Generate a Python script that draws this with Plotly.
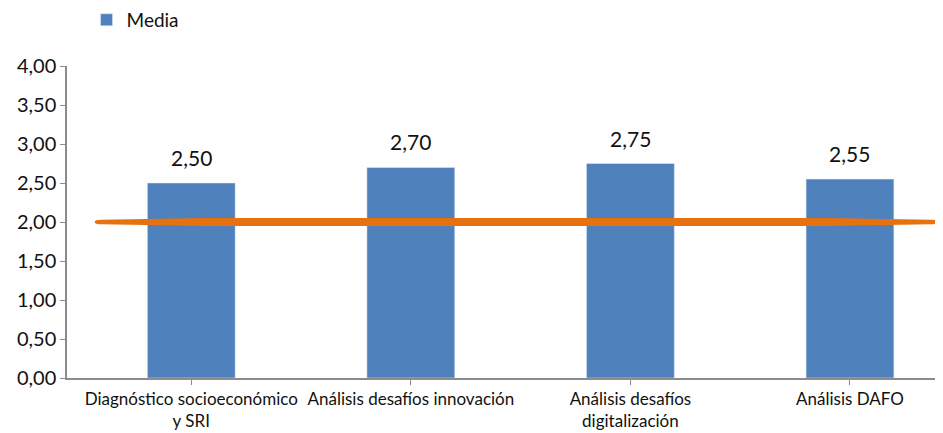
import plotly.graph_objects as go

categories = ["Diagnóstico socioeconómico<br>y SRI", "Análisis desafíos innovación",
              "Análisis desafíos<br>digitalización", "Análisis DAFO"]
media = [2.50, 2.70, 2.75, 2.55]
reference_level = 2.00
y_ticks = [0, 0.5, 1.0, 1.5, 2.0, 2.5, 3.0, 3.5, 4.0]

FONT = "Lato"
BAR = "#4F81BD"
ORANGE = "#E8710F"

fig = go.Figure()
fig.add_trace(go.Bar(x=list(range(len(categories))), y=media, name="Media",
                     marker_color=BAR, width=0.4, showlegend=True))

for i, v in enumerate(media):
    fig.add_annotation(x=i, y=v, text=f"{v:.2f}".replace(".", ","), showarrow=False,
                       yanchor="bottom", yshift=11, font=dict(family=FONT, size=21, color="#111"))

# reference line at 2,00 drawn as a long tapered stroke
x0, x1 = -0.44, 3.40
h, he = 0.052, 0.03
y = reference_level
path = (f"M {x0},{y} "
        f"Q {x0},{y + he} {x0 + 0.03},{y + he} "
        f"L {x0 + 0.5},{y + h} L {x1 - 0.5},{y + h} L {x1 - 0.03},{y + he} "
        f"Q {x1},{y + he} {x1},{y} "
        f"Q {x1},{y - he} {x1 - 0.03},{y - he} "
        f"L {x1 - 0.5},{y - h} L {x0 + 0.5},{y - h} L {x0 + 0.03},{y - he} "
        f"Q {x0},{y - he} {x0},{y} Z")
fig.add_shape(type="path", xref="x", yref="y", path=path,
              fillcolor=ORANGE, line=dict(width=0), layer="above")

fig.update_layout(
    width=935, height=425,
    margin=dict(l=59, r=3, t=58, b=55, autoexpand=False),
    paper_bgcolor="white", plot_bgcolor="white",
    separators=",.",
    font=dict(family=FONT, color="#111"),
    showlegend=True,
    legend=dict(orientation="h", x=0.084, y=0.972, xref="container", yref="container",
                xanchor="left", yanchor="middle", font=dict(size=19, family=FONT, color="#111"),
                traceorder="normal"),
    bargap=0.6,
)
fig.update_xaxes(range=[-0.566, 3.41], tickvals=list(range(len(categories))), ticktext=categories,
                 tickangle=0, automargin=False,
                 showline=True, linecolor="#8c8c8c", linewidth=1.5,
                 ticks="outside", tickson="boundaries", tickcolor="#8c8c8c", ticklen=5,
                 tickfont=dict(size=17, family=FONT, color="#111"), showgrid=False, zeroline=False)
fig.update_yaxes(range=[0, 4.0], tickvals=y_ticks, tickformat=".2f", automargin=False,
                 showline=True, linecolor="#8c8c8c", linewidth=1.5,
                 ticks="outside", tickcolor="#8c8c8c", ticklen=5,
                 tickfont=dict(size=20, family=FONT, color="#111"), showgrid=False, zeroline=False)

fig.write_html("out.html")
